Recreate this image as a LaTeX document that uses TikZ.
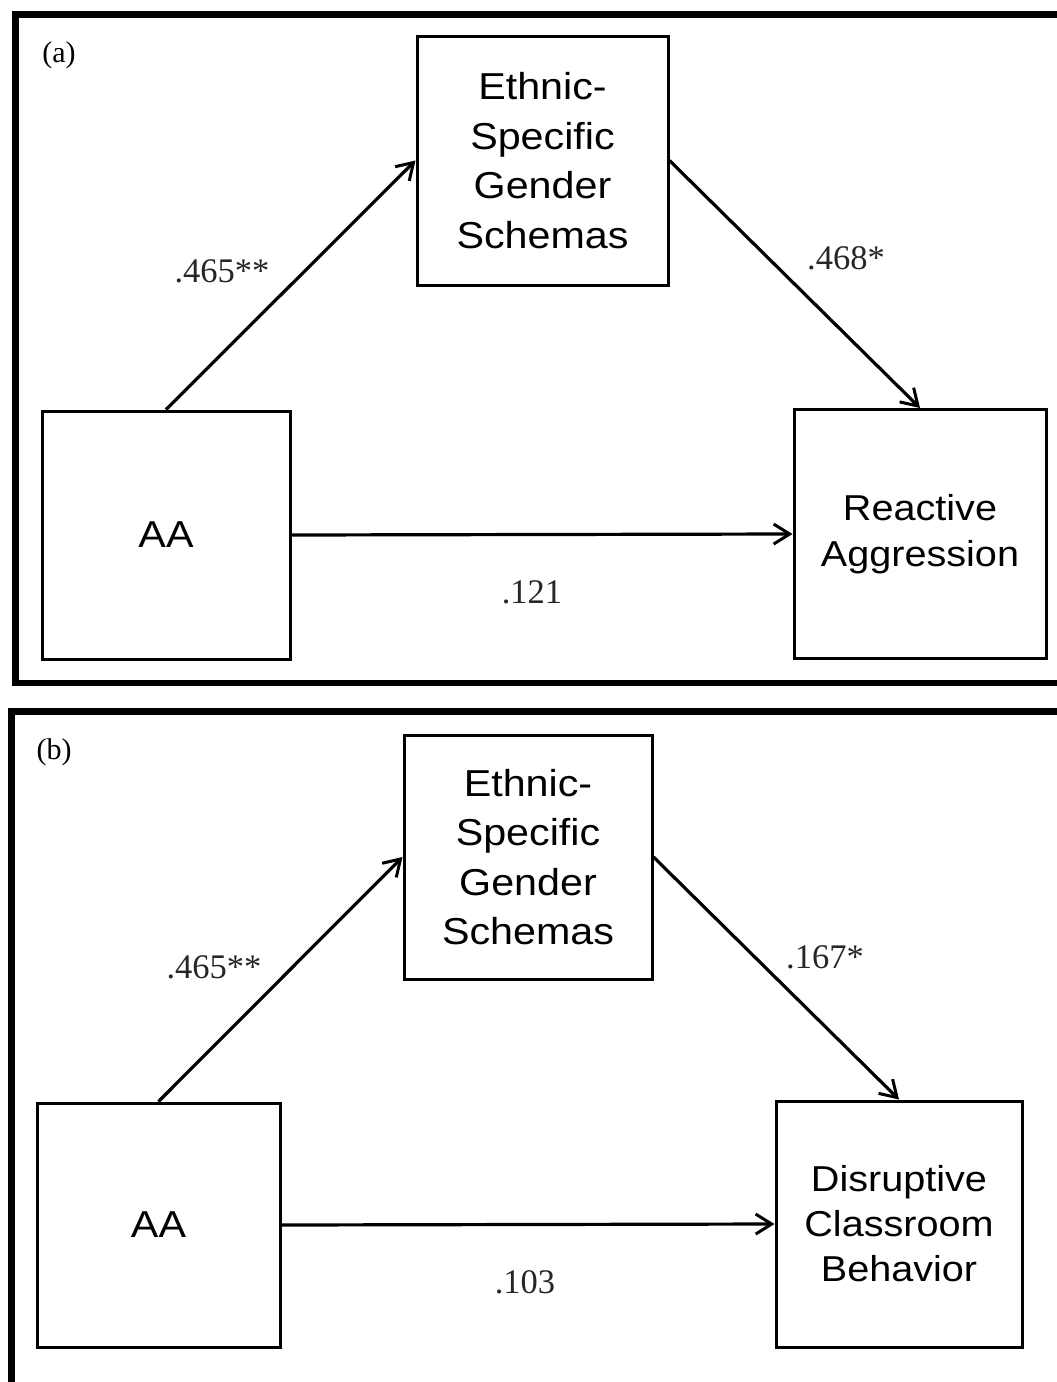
\documentclass[tikz,border=0pt]{standalone}
\usepackage{fontspec}
\setmainfont{Liberation Serif}
\newfontfamily\boxfont{Liberation Sans}[FakeStretch=1.1]
\usetikzlibrary{arrows.meta}
\tikzset{
  varbox/.style={draw=black, line width=3pt, inner sep=0pt, align=center,
    font=\boxfont\fontsize{37.5}{49.5}\selectfont},
  coef/.style={font=\fontsize{34.5}{38}\selectfont, text=black!85},
  panel/.style={font=\fontsize{30}{34}\selectfont},
  path/.style={line width=3.2pt, -{Straight Barb[length=16pt,width=20pt,line width=3pt]}},
  frame/.style={line width=6.5pt}
}
\begin{document}
\begin{tikzpicture}[x=1pt,y=-1pt]
\useasboundingbox (0,0) rectangle (1057,1382);
\clip (0,0) rectangle (1057,1382);
% frames
\draw[frame] (1080,14.5) -- (15.5,14.5) -- (15.5,683) -- (1080,683);
\draw[frame] (1080,711.5) -- (11.5,711.5) -- (11.5,1400);
% panel (a)
\node[panel] (la) at (59,55) {(a)};
\node[varbox, minimum width=251pt, minimum height=249pt] (eA) at (542.5,160.5) {Ethnic-\\Specific\\Gender\\Schemas};
\node[varbox, minimum width=248pt, minimum height=248pt] (aaA) at (166,535) {AA};
\node[varbox, minimum width=252pt, minimum height=249pt, font=\boxfont\fontsize{36}{46}\selectfont] (raA) at (920,534) {Reactive\\Aggression};
\draw[path] (aaA.north) -- (eA.west);
\draw[path] (eA.east) -- (raA.north);
\draw[path] (aaA.east) -- (raA.west);
\node[coef] (cA1) at (222,271) {.465**};
\node[coef] (cA2) at (846,258) {.468*};
\node[coef] (cA3) at (532,592) {.121};
% panel (b)
\node[panel] (lb) at (54,752) {(b)};
\node[varbox, minimum width=248pt, minimum height=244pt] (eB) at (528,857) {Ethnic-\\Specific\\Gender\\Schemas};
\node[varbox, minimum width=243pt, minimum height=244pt] (aaB) at (158.5,1225) {AA};
\node[varbox, minimum width=246pt, minimum height=246pt, font=\boxfont\fontsize{36}{45}\selectfont] (dB) at (899,1224) {Disruptive\\Classroom\\Behavior};
\draw[path] (aaB.north) -- (eB.west);
\draw[path] (eB.east) -- (dB.north);
\draw[path] (aaB.east) -- (dB.west);
\node[coef] (cB1) at (214,967) {.465**};
\node[coef] (cB2) at (825,957) {.167*};
\node[coef] (cB3) at (525,1282) {.103};
\end{tikzpicture}
\end{document}
